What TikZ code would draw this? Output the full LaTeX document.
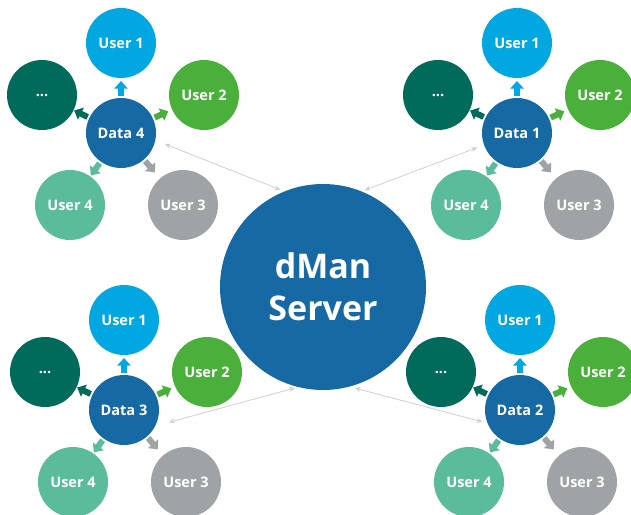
\documentclass[tikz,border=0pt]{standalone}
\usepackage{fontspec}
\setmainfont{Open Sans}
\usetikzlibrary{arrows.meta,calc}
\definecolor{dataC}{HTML}{1769A3}
\definecolor{uoneC}{HTML}{00A7E1}
\definecolor{utwoC}{HTML}{4AB03B}
\definecolor{uthreeC}{HTML}{A0A3A6}
\definecolor{ufourC}{HTML}{5BBC9C}
\definecolor{dotsC}{HTML}{006A5B}
\definecolor{connC}{HTML}{CFCFCF}
\tikzset{
  circ/.style={circle, minimum size=70pt, inner sep=0pt, text=white,
    font=\bfseries\fontsize{14.5}{17}\selectfont},
  datanode/.style={circ, fill=dataC},
  serv/.style={circle, minimum size=206pt, inner sep=0pt, fill=dataC, text=white,
    align=center, font=\bfseries\fontsize{34}{42}\selectfont},
  blk/.style={line width=6pt, -{Triangle[length=7.5pt,width=13pt]}},
  conn/.style={connC, line width=0.8pt, {Stealth[length=6pt,width=5pt]}-{Stealth[length=6pt,width=5pt]}}
}
\newcommand\mycluster[4]{%
  \node[datanode] (#1-D) at (#2,#3) {#4};
  \node[circ, fill=uoneC]   (#1-U1) at (#2,#3-90) {User 1};
  \node[circ, fill=utwoC]   (#1-U2) at (#2+83,#3-38) {User 2};
  \node[circ, fill=dotsC]   (#1-X)  at (#2-79,#3-38) {...};
  \node[circ, fill=ufourC]  (#1-U4) at (#2-51,#3+72) {User 4};
  \node[circ, fill=uthreeC] (#1-U3) at (#2+62,#3+72) {User 3};
  \draw[blk, uoneC]   ($(#1-D)!37pt!(#1-U1)$) -- ($(#1-D)!52pt!(#1-U1)$);
  \draw[blk, utwoC]   ($(#1-D)!37pt!(#1-U2)$) -- ($(#1-D)!52pt!(#1-U2)$);
  \draw[blk, dotsC]   ($(#1-D)!37pt!(#1-X)$)  -- ($(#1-D)!52pt!(#1-X)$);
  \draw[blk, ufourC]  ($(#1-D)!37pt!(#1-U4)$) -- ($(#1-D)!52pt!(#1-U4)$);
  \draw[blk, uthreeC] ($(#1-D)!37pt!(#1-U3)$) -- ($(#1-D)!52pt!(#1-U3)$);
}
\begin{document}
\begin{tikzpicture}[x=1pt,y=-1pt]
\useasboundingbox (0,0) rectangle (631,514);
\node[serv] (S) at (323,287) {dMan\\Server};
\mycluster{a}{121}{133}{Data 4}
\mycluster{b}{517}{133}{Data 1}
\mycluster{c}{124}{410}{Data 3}
\mycluster{d}{520}{410}{Data 2}
\draw[conn, shorten <=10pt, shorten >=4pt] (a-D.-12) -- (S.112);
\draw[conn, shorten <=7pt, shorten >=3pt] (b-D.200) -- (S.68);
\draw[conn, shorten <=3pt, shorten >=14pt] (S.256) -- (c-D.-27);
\draw[conn, shorten <=5pt, shorten >=5pt] (S.285) -- (d-D.202);
\end{tikzpicture}
\end{document}
